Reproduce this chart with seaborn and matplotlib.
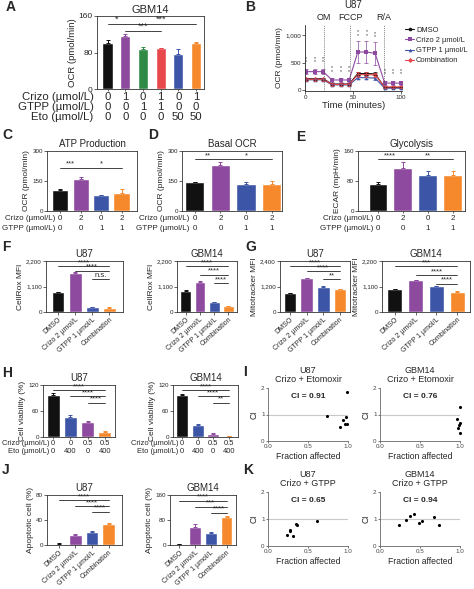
import matplotlib
matplotlib.use("Agg")

import matplotlib.pyplot as plt
import numpy as np
import pandas as pd
import seaborn as sns

# colours
BLACK = "#111111"
PURPLE = "#8e4a9f"
GREEN = "#2f8a45"
RED = "#e8474b"
BLUE = "#3d55a6"
ORANGE = "#f5892c"

# ---- data ----
# A: GBM14 OCR
a_groups = ["DMSO", "Crizo", "GTPP", "Crizo+GTPP", "Eto", "Crizo+Eto"]
a_ocr = [100, 116, 88, 89, 76, 100]
a_err = [7, 5, 5, 1, 11, 3]
a_crizo = ["0", "1", "0", "1", "0", "1"]
a_gtpp = ["0", "0", "1", "1", "0", "0"]
a_eto = ["0", "0", "0", "0", "50", "50"]

# B: U87 seahorse trace
b_time = [1, 10, 19, 28, 37, 46, 55, 64, 73, 83, 92, 100]
b_dmso = [205, 205, 205, 108, 108, 108, 300, 300, 295, 45, 45, 45]
b_crizo = [335, 335, 335, 182, 182, 182, 695, 695, 670, 125, 125, 125]
b_gtpp = [185, 185, 185, 92, 92, 92, 225, 225, 215, 32, 32, 32]
b_combo = [195, 195, 195, 100, 100, 100, 280, 280, 275, 55, 55, 55]
b_dmso_err = [20, 20, 20, 15, 15, 15, 30, 30, 30, 10, 10, 10]
b_crizo_err = [50, 50, 50, 40, 40, 40, 210, 210, 210, 40, 40, 40]
b_gtpp_err = [20, 20, 20, 15, 15, 15, 25, 25, 25, 10, 10, 10]
b_combo_err = [25, 25, 25, 20, 20, 20, 40, 40, 40, 15, 15, 15]
b_star = [470, 470, 470, 300, 300, 300, 960, 960, 930, 250, 250, 250]
b_names = ["DMSO", "Crizo 2 µmol/L", "GTPP 1 µmol/L", "Combination"]

# C, D, E: 4 conditions
cde_groups = ["DMSO", "Crizo", "GTPP", "Combination"]
cde_crizo = ["0", "2", "0", "2"]
cde_gtpp = ["0", "0", "1", "1"]
c_atp = [105, 158, 80, 88]
c_err = [3, 13, 2, 22]
d_basal = [143, 230, 135, 133]
d_err = [3, 15, 12, 15]
e_ecar = [73, 114, 97, 97]
e_err = [4, 17, 10, 10]

# F, G, J: flow / apoptosis
fgj_labels = ["DMSO", "Crizo 2 µmol/L", "GTPP 1 µmol/L", "Combination"]
f_u87 = [851, 1702, 213, 187]
f_u87_err = [25, 25, 12, 10]
f_gbm = [923, 1306, 425, 243]
f_gbm_err = [20, 30, 20, 15]
g_u87 = [877, 1585, 1185, 1077]
g_u87_err = [20, 25, 20, 25]
g_gbm = [987, 1368, 1128, 874]
g_gbm_err = [15, 30, 15, 15]
j_u87 = [2, 16, 21, 33]
j_u87_err = [0.5, 1, 1, 2]
j_gbm = [2, 58, 40, 89]
j_gbm_err = [1, 8, 2, 3]

# H: viability
h_groups = ["Ctrl", "Eto", "Crizo", "Crizo+Eto"]
h_crizo = ["0", "0", "0.5", "0.5"]
h_eto = ["0", "400", "0", "400"]
h_u87 = [98, 46, 34, 12]
h_u87_err = [3, 4, 2, 1.5]
h_gbm = [98, 28, 8, 2.5]
h_gbm_err = [1.5, 1.5, 1, 0.5]

# I, K: combination index
i_u87_fa = [0.74, 0.90, 0.94, 0.96, 0.98, 0.99, 0.99]
i_u87_ci = [0.95, 0.52, 0.80, 0.65, 0.92, 0.65, 1.85]
i_gbm_fa = [0.96, 1.0, 1.0, 0.99, 0.98, 1.0]
i_gbm_ci = [0.82, 1.30, 0.67, 0.60, 0.48, 0.32]
k_u87_fa = [0.24, 0.28, 0.28, 0.31, 0.35, 0.36, 0.61]
k_u87_ci = [0.40, 0.60, 0.56, 0.37, 0.83, 0.79, 0.91]
k_gbm_fa = [0.24, 0.33, 0.37, 0.42, 0.49, 0.52, 0.68, 0.74]
k_gbm_ci = [0.79, 0.96, 1.10, 1.17, 0.85, 0.91, 1.07, 0.77]

# ---- figure setup ----
sns.set_style("ticks")
plt.rcParams["font.family"] = ["Liberation Sans", "DejaVu Sans"]
plt.rcParams["axes.linewidth"] = 0.6

W, H = 474, 589
fig = plt.figure(figsize=(W / 100, H / 100), dpi=100)


def px_axes(x0, y0, x1, y1):
    return fig.add_axes([x0 / W, 1 - y1 / H, (x1 - x0) / W, (y1 - y0) / H])


def fig_text(x, y, s, **kw):
    fig.text(x / W, 1 - y / H, s, **kw)


def letter(x, y, s):
    fig_text(x, y, s, fontsize=10, fontweight="bold", ha="left", va="center")


def bar_panel(ax, labels, values, errors, colors, ylim, yticks, ylabel,
              yticklabels=None, xlim=None, width=0.75, fs_tick=4.5, fs_lab=6):
    sns.barplot(x=labels, y=values, hue=labels, order=labels, hue_order=labels,
                palette=colors, legend=False, width=width, saturation=1,
                errorbar=None, ax=ax)
    for i, (v, e, c) in enumerate(zip(values, errors, colors)):
        ax.errorbar(i, v, yerr=[[0], [e]], fmt="none", ecolor=c,
                    elinewidth=0.7, capsize=1.6, capthick=0.7)
    ax.set_ylim(*ylim)
    ax.set_yticks(yticks)
    if yticklabels is not None:
        ax.set_yticklabels(yticklabels)
    if xlim is not None:
        ax.set_xlim(*xlim)
    ax.set_ylabel(ylabel, fontsize=fs_lab, labelpad=1.5)
    ax.set_xlabel("")
    ax.tick_params(length=2, width=0.5, pad=1, labelsize=fs_tick)
    for s in ax.spines.values():
        s.set_linewidth(0.6)
        s.set_color("#333333")


def no_xlabels(ax):
    ax.set_xticklabels([])
    ax.tick_params(axis="x", length=1.5)


def rot_xlabels(ax, labels, fs=5):
    ax.set_xticks(range(len(labels)))
    ax.set_xticklabels(labels, rotation=42, ha="right", rotation_mode="anchor", fontsize=fs)


def sig(ax, x0, x1, y, text, fs=5.5):
    ax.plot([x0, x1], [y, y], color="#222222", lw=0.6, clip_on=False)
    ax.text((x0 + x1) / 2, y, text, ha="center", va="bottom", fontsize=fs)


def row_table(ax, rows, offsets_px, gap_px, fs):
    for (name, vals), off in zip(rows, offsets_px):
        ax.annotate(name, xy=(0, 0), xycoords=("data", "axes fraction"),
                    xytext=(-gap_px * 0.72, -off * 0.72), textcoords="offset points",
                    ha="right", va="center", fontsize=fs, annotation_clip=False)
        for i, v in enumerate(vals):
            ax.annotate(v, xy=(i, 0), xycoords=("data", "axes fraction"),
                        xytext=(0, -off * 0.72), textcoords="offset points",
                        ha="center", va="center", fontsize=fs, annotation_clip=False)


# ---- A ----
axA = px_axes(97, 16, 204, 89)
bar_panel(axA, a_groups, a_ocr, a_err, [BLACK, PURPLE, GREEN, RED, BLUE, ORANGE],
          (0, 160), [0, 80, 160], "OCR (pmol/min)", xlim=(-0.6, 5.45), width=0.58,
          fs_tick=6, fs_lab=6.8)
no_xlabels(axA)
axA.set_title("GBM14", fontsize=8, pad=2)
sig(axA, 0, 1, 142, "*", fs=6.5)
sig(axA, 1, 5, 142, "***", fs=6.5)
sig(axA, 1, 3, 127, "***", fs=6.5)
row_table(axA, [("Crizo (µmol/L)", a_crizo), ("GTPP (µmol/L)", a_gtpp), ("Eto (µmol/L)", a_eto)],
          [8, 18, 28.5], 14, 8.2)
letter(6, 7, "A")

# ---- B ----
axB = px_axes(305, 25, 402, 91)
b_df = pd.DataFrame({
    "time": b_time * 4,
    "ocr": b_dmso + b_crizo + b_gtpp + b_combo,
    "group": sum([[n] * len(b_time) for n in b_names], []),
})
b_colors = [BLACK, PURPLE, BLUE, RED]
b_markers = ["o", "s", "^", "D"]
sns.lineplot(data=b_df, x="time", y="ocr", hue="group", style="group",
             hue_order=b_names, style_order=b_names, palette=b_colors,
             markers=b_markers, dashes=False, markersize=2.6, markeredgewidth=0,
             linewidth=0.8, ax=axB, legend=False)
for vals, errs, c in zip([b_dmso, b_crizo, b_gtpp, b_combo],
                         [b_dmso_err, b_crizo_err, b_gtpp_err, b_combo_err], b_colors):
    axB.errorbar(b_time, vals, yerr=errs, fmt="none", ecolor=c, elinewidth=0.5,
                 capsize=1.2, capthick=0.5)
for t, y in zip(b_time, b_star):
    axB.text(t, y, "*\n*", ha="center", va="bottom", fontsize=3.8, linespacing=0.55,
             color="#333333")
for xv in [19.5, 47, 82.5]:
    axB.axvline(xv, color="#555555", lw=0.5, ls=(0, (1.5, 1.5)))
for xv, s in zip([19.5, 47, 82.5], ["OM", "FCCP", "R/A"]):
    axB.text(xv, 1.12, s, transform=axB.get_xaxis_transform(), ha="center",
             va="center", fontsize=6.5)
axB.set_xlim(0, 101)
axB.set_ylim(-20, 1190)
axB.set_xticks([0, 50, 100])
axB.set_yticks([0, 500, 1000])
axB.set_yticklabels(["0", "500", "1,000"])
axB.set_xlabel("Time (minutes)", fontsize=6.8, labelpad=0.5)
axB.set_ylabel("OCR (pmol/min)", fontsize=6, labelpad=1.5)
axB.tick_params(length=2, width=0.5, pad=1, labelsize=4.5)
sns.despine(ax=axB)
fig_text(353, 5, "U87", ha="center", va="center", fontsize=7)
handles = [plt.Line2D([0], [0], color=c, marker=m, markersize=2.6, lw=0.8, markeredgewidth=0)
           for c, m in zip(b_colors, b_markers)]
axB.legend(handles, b_names, loc="upper left", bbox_to_anchor=(1.02, 1.0), frameon=False,
           fontsize=5.4, handlelength=1.1, handletextpad=0.3, labelspacing=0.4,
           borderaxespad=0, borderpad=0.2)
letter(245, 7, "B")

# ---- C, D, E ----
cde_colors = [BLACK, PURPLE, BLUE, ORANGE]
cde_rows = [("Crizo (µmol/L)", cde_crizo), ("GTPP (µmol/L)", cde_gtpp)]

axC = px_axes(47, 151, 137, 211)
bar_panel(axC, cde_groups, c_atp, c_err, cde_colors, (0, 300), [0, 150, 300],
          "OCR (pmol/min)", xlim=(-0.65, 3.75), width=0.8)
no_xlabels(axC)
axC.set_title("ATP Production", fontsize=7, pad=3)
sig(axC, 0, 1, 217, "***")
sig(axC, 1, 3, 217, "*")
row_table(axC, cde_rows, [7.5, 18], 5, 5.8)
letter(2, 135, "C")

axD = px_axes(182, 151, 282, 211)
bar_panel(axD, cde_groups, d_basal, d_err, cde_colors, (0, 300), [0, 150, 300],
          "OCR (pmol/min)", xlim=(-0.5, 3.4), width=0.75)
no_xlabels(axD)
axD.set_title("Basal OCR", fontsize=7, pad=3)
sig(axD, 0, 1, 260, "**")
sig(axD, 1, 3, 260, "*")
row_table(axD, cde_rows, [7.5, 18], 5, 5.8)
letter(148, 135, "D")

axE = px_axes(358, 151, 465, 211)
bar_panel(axE, cde_groups, e_ecar, e_err, cde_colors, (0, 160), [0, 80, 160],
          "ECAR (mpH/min)", xlim=(-0.8, 3.5), width=0.75)
no_xlabels(axE)
axE.set_title("Glycolysis", fontsize=7, pad=3)
sig(axE, 0, 1, 138, "****")
sig(axE, 1, 3, 138, "**")
row_table(axE, cde_rows, [7.5, 18], 5, 5.8)
letter(296, 137, "E")

# ---- F ----
axF1 = px_axes(46, 261, 123, 312)
bar_panel(axF1, fgj_labels, f_u87, f_u87_err, cde_colors, (0, 2200), [0, 1100, 2200],
          "CellRox MFI", yticklabels=["0", "1,100", "2,200"], xlim=(-0.7, 3.8))
rot_xlabels(axF1, fgj_labels)
axF1.set_title("U87", fontsize=7, pad=3)
sig(axF1, 0, 3, 1987, "****")
sig(axF1, 1, 3, 1774, "****")
sig(axF1, 2, 3, 1421, "n.s.")
letter(2, 247, "F")

axF2 = px_axes(177, 261, 237, 312)
bar_panel(axF2, fgj_labels, f_gbm, f_gbm_err, cde_colors, (0, 2200), [0, 1100, 2200],
          "CellRox MFI", yticklabels=["0", "1,100", "2,200"], xlim=(-0.6, 3.6))
rot_xlabels(axF2, fgj_labels)
axF2.set_title("GBM14", fontsize=7, pad=3)
sig(axF2, 0, 3, 1987, "****")
sig(axF2, 1, 3, 1604, "****")
sig(axF2, 2, 3, 1234, "****")

# ---- G ----
axG1 = px_axes(280, 261, 350, 312)
bar_panel(axG1, fgj_labels, g_u87, g_u87_err, cde_colors, (0, 2400), [0, 1200, 2400],
          "Mitotracker MFI", yticklabels=["0", "1,200", "2,400"], xlim=(-0.6, 3.6))
rot_xlabels(axG1, fgj_labels)
axG1.set_title("U87", fontsize=7, pad=3)
sig(axG1, 0, 3, 2154, "****")
sig(axG1, 1, 3, 1923, "****")
sig(axG1, 2, 3, 1538, "**")
letter(245, 247, "G")

axG2 = px_axes(382, 261, 470, 312)
bar_panel(axG2, fgj_labels, g_gbm, g_gbm_err, cde_colors, (0, 2200), [0, 1100, 2200],
          "Mitotracker MFI", yticklabels=["0", "1,100", "2,200"], xlim=(-0.6, 3.6))
rot_xlabels(axG2, fgj_labels)
axG2.set_title("GBM14", fontsize=7, pad=3)
sig(axG2, 0, 3, 1974, "***")
sig(axG2, 1, 3, 1594, "****")
sig(axG2, 2, 3, 1227, "****")

# ---- H ----
h_colors = [BLACK, BLUE, PURPLE, ORANGE]
h_rows = [("Crizo (µmol/L)", h_crizo), ("Eto (µmol/L)", h_eto)]

axH1 = px_axes(43, 385, 115, 437)
bar_panel(axH1, h_groups, h_u87, h_u87_err, h_colors, (0, 120), [0, 60, 120],
          "Cell viability (%)", xlim=(-0.6, 3.6))
no_xlabels(axH1)
axH1.set_title("U87", fontsize=7, pad=3)
sig(axH1, 0, 3, 108, "****")
sig(axH1, 1, 3, 94, "****")
sig(axH1, 2, 3, 79, "****")
row_table(axH1, h_rows, [6.5, 14.5], 4, 5.4)
letter(2, 373, "H")

axH2 = px_axes(173, 385, 238, 437)
bar_panel(axH2, h_groups, h_gbm, h_gbm_err, h_colors, (0, 120), [0, 60, 120],
          "Cell viability (%)", xlim=(-0.6, 3.6))
no_xlabels(axH2)
axH2.set_title("GBM14", fontsize=7, pad=3)
sig(axH2, 0, 3, 108, "****")
sig(axH2, 1, 3, 94, "****")
sig(axH2, 2, 3, 79, "**")
row_table(axH2, h_rows, [6.5, 14.5], 4, 5.4)

# ---- J ----
axJ1 = px_axes(47, 495, 122, 545)
bar_panel(axJ1, fgj_labels, j_u87, j_u87_err, cde_colors, (0, 80), [0, 40, 80],
          "Apoptotic cell (%)", xlim=(-0.7, 3.8))
rot_xlabels(axJ1, fgj_labels)
axJ1.set_title("U87", fontsize=7, pad=3)
sig(axJ1, 0, 3, 72, "****")
sig(axJ1, 1, 3, 62.4, "****")
sig(axJ1, 2, 3, 53.3, "****")
letter(2, 470, "J")

axJ2 = px_axes(170, 495, 236, 545)
bar_panel(axJ2, fgj_labels, j_gbm, j_gbm_err, cde_colors, (0, 160), [0, 80, 160],
          "Apoptotic cell (%)", xlim=(-0.6, 3.6))
rot_xlabels(axJ2, fgj_labels)
axJ2.set_title("GBM14", fontsize=7, pad=3)
sig(axJ2, 0, 3, 142, "****")
sig(axJ2, 1, 3, 123, "***")
sig(axJ2, 2, 3, 103, "****")


# ---- I, K ----
def ci_panel(box, fa, ci, title, ci_text):
    ax = px_axes(*box)
    ax.axhline(1, color="#c8c8c8", lw=0.8, zorder=0)
    sns.scatterplot(x=fa, y=ci, color="black", s=5, linewidth=0, ax=ax, clip_on=False)
    ax.set_xlim(0, 1)
    ax.set_ylim(0, 2)
    ax.set_xticks([0, 0.5, 1.0])
    ax.set_xticklabels(["0.0", "0.5", "1.0"])
    ax.set_yticks([0, 1, 2])
    ax.tick_params(length=1.5, width=0.5, pad=1, labelsize=4.5, colors="#444444")
    ax.set_xlabel("Fraction affected", fontsize=6.2, labelpad=2)
    ax.set_ylabel("CI", fontsize=6.2, labelpad=2)
    sns.despine(ax=ax)
    for s in ax.spines.values():
        s.set_color("#666666")
        s.set_linewidth(0.6)
    ax.text(0.5, 0.84, ci_text, transform=ax.transAxes, ha="center", va="center",
            fontsize=6, fontweight="bold")
    ax.set_title(title, fontsize=6.5, pad=4, linespacing=1.05)
    return ax


ci_panel((268, 388, 348, 441), i_u87_fa, i_u87_ci, "U87\nCrizo + Etomoxir", "CI = 0.91")
ci_panel((380, 388, 460, 441), i_gbm_fa, i_gbm_ci, "GBM14\nCrizo + Etomoxir", "CI = 0.76")
letter(243, 372, "I")
ci_panel((268, 492, 348, 546), k_u87_fa, k_u87_ci, "U87\nCrizo + GTPP", "CI = 0.65")
ci_panel((380, 492, 460, 546), k_gbm_fa, k_gbm_ci, "GBM14\nCrizo + GTPP", "CI = 0.94")
letter(243, 470, "K")

fig.savefig("out.png", dpi=100)
